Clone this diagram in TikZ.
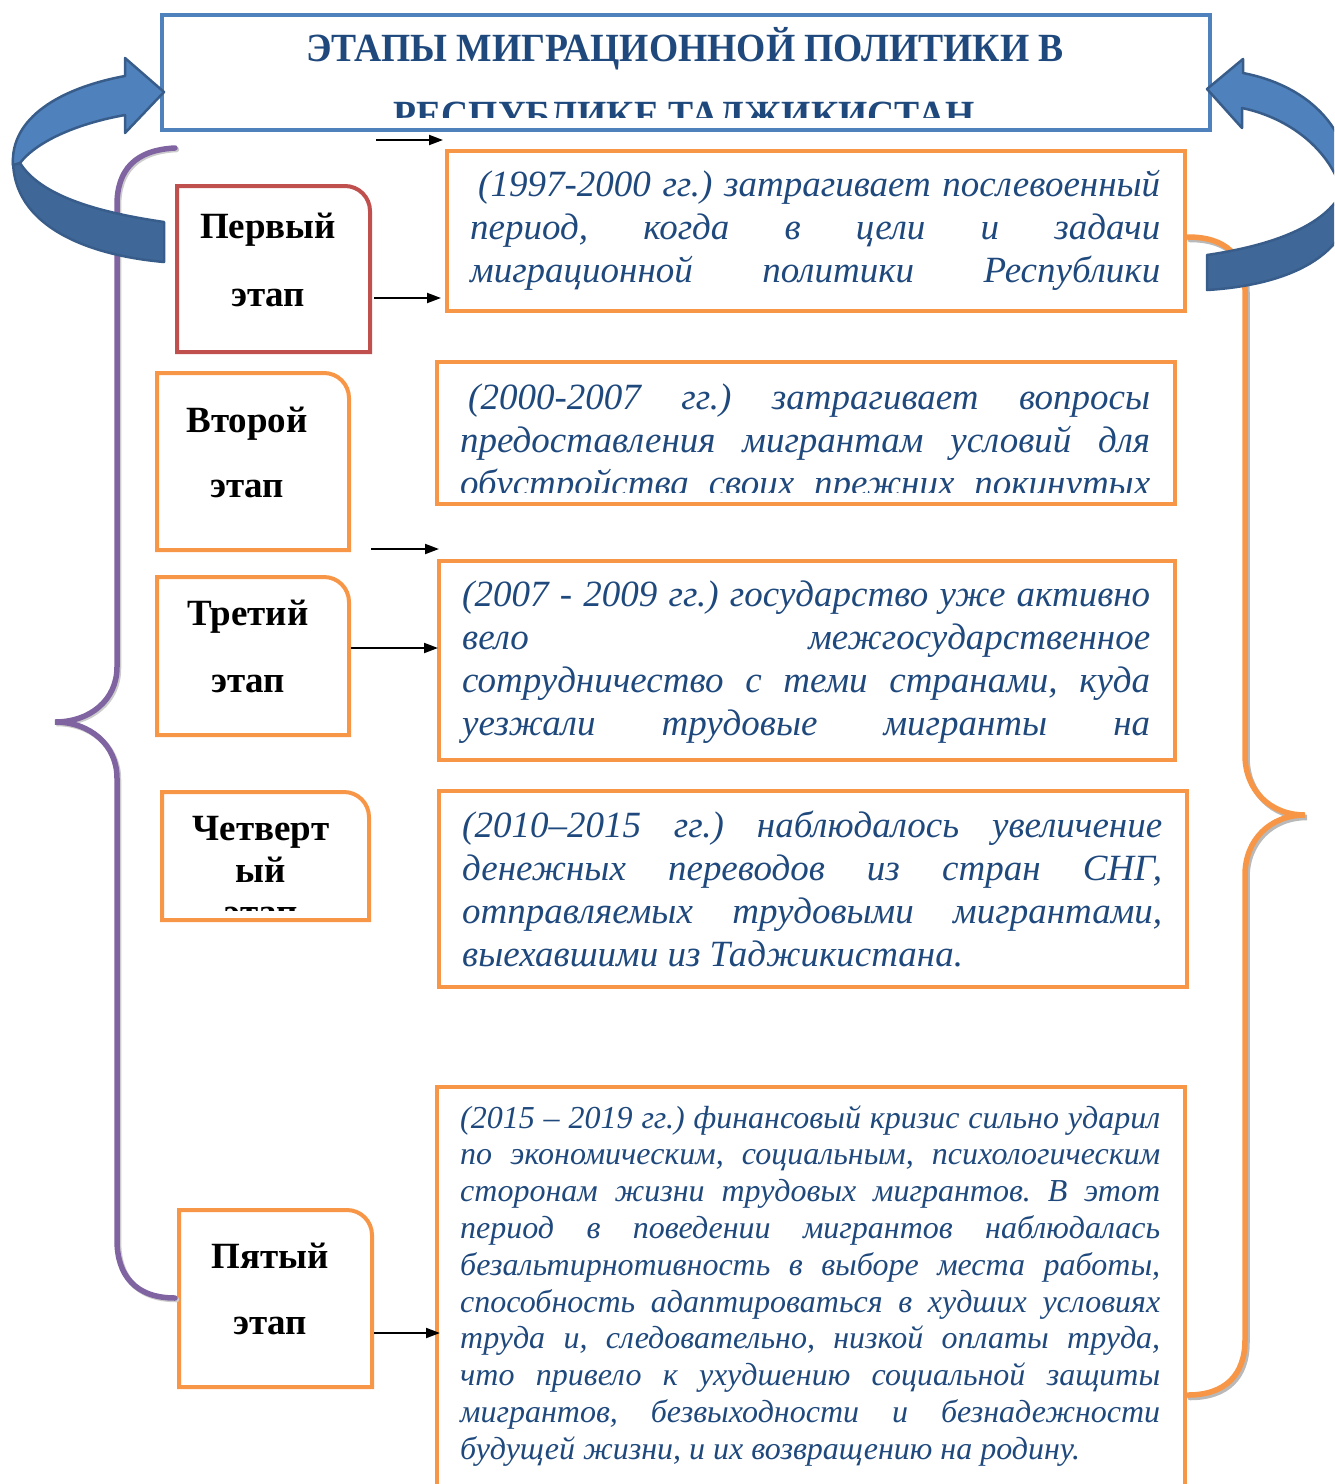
\documentclass[tikz,border=0pt]{standalone}
\usepackage{fontspec}
\setmainfont{Liberation Serif}
\newfontfamily\titlefont[FakeStretch=0.94]{Liberation Serif}
\usetikzlibrary{arrows.meta,calc}
\definecolor{tblue}{HTML}{4F81BD}
\definecolor{txtblue}{HTML}{1F497D}
\definecolor{orng}{HTML}{F79646}
\definecolor{rred}{HTML}{C0504D}
\definecolor{purp}{HTML}{8064A2}
\definecolor{arrdark}{HTML}{3F6899}
\definecolor{arrline}{HTML}{385D8A}
\newcommand{\jl}[2]{\makebox[#1][s]{#2}}
\frenchspacing
\begin{document}
\begin{tikzpicture}[x=1pt,y=-1pt,
  tframe/.style={draw=orng,line width=4pt,inner sep=0pt,outer sep=0pt,rectangle},
  sbox/.style={inner sep=0pt,outer sep=0pt,rectangle},
  sborder/.style={line width=4pt,line join=miter},
  slabel/.style={anchor=base,inner sep=0pt,font=\fontsize{37}{44}\selectfont\bfseries},
  btext/.style={anchor=base west,inner sep=0pt,text=txtblue,font=\fontsize{37}{43}\selectfont\itshape\frenchspacing},
  btextsmall/.style={anchor=base west,inner sep=0pt,text=txtblue,font=\fontsize{32}{36.8}\selectfont\itshape\frenchspacing},
  ttext/.style={anchor=base,inner sep=0pt,text=txtblue,font=\titlefont\fontsize{40}{48}\selectfont\bfseries},
  arr/.style={line width=2pt,-{Triangle[length=14pt,width=10pt]}},
  ribbon/.style={draw=arrline,line width=2.5pt,line join=round},
  brace/.style={line width=5.5pt,line cap=round}
]
\useasboundingbox (0,0) rectangle (1334,1484);
\clip (0,0) rectangle (1334,1484);

% title box
\node[draw=tblue,line width=4pt,inner sep=0pt,minimum width=1048pt,minimum height=115pt] (title) at (686,72.5) {};
\node[ttext] (title1) at (685,61) {ЭТАПЫ МИГРАЦИОННОЙ ПОЛИТИКИ В};
\begin{scope}
\clip (170,90) rectangle (1200,117);
\node[ttext] (title2) at (684,128) {РЕСПУБЛИКЕ ТАДЖИКИСТАН};
\end{scope}

% text boxes
\node[tframe,minimum width=738pt,minimum height=160pt] (t1) at (816,231) {};
\node[tframe,minimum width=738pt,minimum height=142pt] (t2) at (806,433) {};
\node[tframe,minimum width=736pt,minimum height=199pt] (t3) at (807,660.5) {};
\node[tframe,minimum width=748pt,minimum height=196pt] (t4) at (813,889) {};
\node[tframe,minimum width=748pt,minimum height=413pt] (t5) at (811,1293.5) {};

\node[btext] (t1txt) at (470,196) {\parbox[t]{690pt}{%
\jl{690pt}{\hspace{8pt}(1997-2000 гг.) затрагивает послевоенный}\\
\jl{690pt}{период, когда в цели и задачи}\\
\jl{690pt}{миграционной политики Республики}}};

\begin{scope}
\clip (445,370) rectangle (1170,492);
\node[btext] (t2txt) at (460,409) {\parbox[t]{690pt}{%
\jl{690pt}{\hspace{8pt}(2000-2007 гг.) затрагивает вопросы}\\
\jl{690pt}{предоставления мигрантам условий для}\\
\jl{690pt}{обустройства своих прежних покинутых}}};
\end{scope}

\node[btext] (t3txt) at (462,606) {\parbox[t]{688pt}{%
\jl{688pt}{(2007 - 2009 гг.) государство уже активно}\\
\jl{688pt}{вело межгосударственное}\\
\jl{688pt}{сотрудничество с теми странами, куда}\\
\jl{688pt}{уезжали трудовые мигранты на}}};

\node[btext] (t4txt) at (462,837) {\parbox[t]{700pt}{%
\jl{700pt}{(2010–2015 гг.) наблюдалось увеличение}\\
\jl{700pt}{денежных переводов из стран СНГ,}\\
\jl{700pt}{отправляемых трудовыми мигрантами,}\\
выехавшими из Таджикистана.}};

\node[btextsmall] (t5txt) at (460,1128) {\parbox[t]{700pt}{%
\jl{700pt}{(2015 – 2019 гг.) финансовый кризис сильно ударил}\\
\jl{700pt}{по экономическим, социальным, психологическим}\\
\jl{700pt}{сторонам жизни трудовых мигрантов. В этот}\\
\jl{700pt}{период в поведении мигрантов наблюдалась}\\
\jl{700pt}{безальтирнотивность в выборе места работы,}\\
\jl{700pt}{способность адаптироваться в худших условиях}\\
\jl{700pt}{труда и, следовательно, низкой оплаты труда,}\\
\jl{700pt}{что привело к ухудшению социальной защиты}\\
\jl{700pt}{мигрантов, безвыходности и безнадежности}\\
будущей жизни, и их возвращению на родину.}};

% stage boxes
\node[sbox,minimum width=193pt,minimum height=166pt] (s1) at (273.5,269) {};
\node[sbox,minimum width=192pt,minimum height=177pt] (s2) at (253,461.5) {};
\node[sbox,minimum width=192pt,minimum height=158pt] (s3) at (253,656) {};
\node[sbox,minimum width=207pt,minimum height=128pt] (s4) at (265.5,856) {};
\node[sbox,minimum width=193pt,minimum height=177pt] (s5) at (275.5,1298.5) {};
\draw[sborder,draw=rred] (s1.south west) -- (s1.north west) -- ([xshift=-25pt]s1.north east) arc[start angle=90,end angle=0,radius=25pt] -- (s1.south east) -- cycle;
\foreach \s in {s2,s3,s4,s5}{
  \draw[sborder,draw=orng] (\s.south west) -- (\s.north west) -- ([xshift=-25pt]\s.north east) arc[start angle=90,end angle=0,radius=25pt] -- (\s.south east) -- cycle;
}
\node[slabel] (l1a) at (268,238) {Первый};
\node[slabel] (l1b) at (268,306) {этап};
\node[slabel] (l2a) at (247,432) {Второй};
\node[slabel] (l2b) at (247,497) {этап};
\node[slabel] (l3a) at (248,625) {Третий};
\node[slabel] (l3b) at (248,692) {этап};
\node[slabel] (l4a) at (261,840) {Четверт};
\node[slabel] (l4b) at (261,882) {ый};
\begin{scope}
\clip (170,800) rectangle (360,910);
\node[slabel] (l4c) at (261,924) {этап};
\end{scope}
\node[slabel] (l5a) at (270,1268) {Пятый};
\node[slabel] (l5b) at (270,1334) {этап};

% black arrows
\coordinate (a0s) at (376,140);
\coordinate (a0e) at (443,140);
\draw[arr] (a0s) -- (a0e);
\draw[arr] ($(s1.east)+(4,29)$) -- ($(t1.west)+(-6,67)$);
\draw[arr] ($(s2.south east)+(22,-1)$) -- ($(t3.north west)+(0,-12)$);
\draw[arr] ($(s3.east)+(2,-8)$) -- ($(t3.west)+(-1,-12.5)$);
\draw[arr] ($(s5.east)+(2,34.5)$) -- ($(t5.west)+(3,39.5)$);

% purple brace
\draw[brace,draw=gray!40,shift={(1.5,1.5)}] (175,148) .. controls (135,150) and (117,170) .. (117,205) -- (117,667) .. controls (117,700) and (90,722) .. (55,722) .. controls (90,722) and (117,745) .. (117,778) -- (117,1240) .. controls (117,1275) and (135,1298) .. (175,1298);
\draw[brace,draw=purp] (175,148) .. controls (135,150) and (117,170) .. (117,205) -- (117,667) .. controls (117,700) and (90,722) .. (55,722) .. controls (90,722) and (117,745) .. (117,778) -- (117,1240) .. controls (117,1275) and (135,1298) .. (175,1298);

% orange brace
\draw[brace,draw=gray!55,shift={(2,2.5)}] (1188,237) .. controls (1225,237) and (1245,255) .. (1245,290) -- (1245,755) .. controls (1245,790) and (1270,815) .. (1305,815) .. controls (1270,815) and (1245,840) .. (1245,875) -- (1245,1340) .. controls (1245,1375) and (1225,1395) .. (1188,1395);
\draw[brace,draw=orng] (1188,237) .. controls (1225,237) and (1245,255) .. (1245,290) -- (1245,755) .. controls (1245,790) and (1270,815) .. (1305,815) .. controls (1270,815) and (1245,840) .. (1245,875) -- (1245,1340) .. controls (1245,1375) and (1225,1395) .. (1188,1395);

% left curved ribbon arrow
\filldraw[ribbon,fill=arrdark] (164,222) .. controls (95,212) and (40,195) .. (20,163) -- (13,160) .. controls (13,225) and (85,255) .. (164,262) -- cycle;
\filldraw[ribbon,fill=tblue] (13,165) .. controls (10,118) and (60,88) .. (125,76) -- (125,58) -- (164,92) -- (125,133) -- (125,115) .. controls (80,123) and (38,140) .. (20,163) -- cycle;

% right curved ribbon arrow
\filldraw[ribbon,fill=arrdark] (1207,255) .. controls (1275,245) and (1325,225) .. (1342,192) -- (1352,195) .. controls (1352,255) and (1290,285) .. (1207,290) -- cycle;
\filldraw[ribbon,fill=tblue] (1352,195) .. controls (1352,125) and (1305,85) .. (1243,73) -- (1243,59) -- (1207,89) -- (1242,128) -- (1242,108) .. controls (1290,118) and (1330,150) .. (1342,192) -- cycle;
\end{tikzpicture}
\end{document}
